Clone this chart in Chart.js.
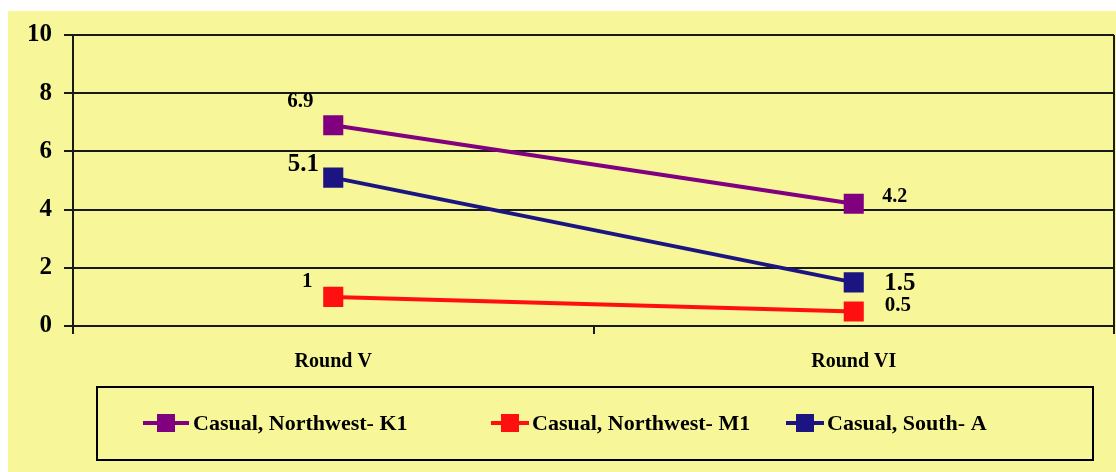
<!DOCTYPE html>
<html>
<head>
<meta charset="utf-8">
<script src="https://cdn.jsdelivr.net/npm/chart.js@4/dist/chart.umd.min.js"></script>
<style>
  html, body { margin: 0; padding: 0; background: #ffffff; }
  #wrap { width: 1116px; height: 472px; position: relative; }
</style>
</head>
<body>
<div id="wrap"><canvas id="c" width="1116" height="472"></canvas></div>
<script>
// Rounds on the category axis
const rounds = ['Round V', 'Round VI'];

// Series names and values per round
const seriesNames = ['Casual, Northwest- K1', 'Casual, Northwest- M1', 'Casual, South- A'];
const k1Values = [6.9, 4.2];
const m1Values = [1, 0.5];
const southAValues = [5.1, 1.5];

// Value axis ticks
const yTicks = [0, 2, 4, 6, 8, 10];

const seriesColors = ['#800080', '#FF1010', '#1C1480'];
const FONT = '"Liberation Serif", "Times New Roman", serif';
const BG = '#F7F799';

// Value label placement per series and point: [dx, dy, fontSize]
const labelStyle = [
  [[-33, -24, 21], [41, -7, 20]],
  [[-26, -15, 21], [44, -6, 21]],
  [[-30, -13, 25], [46, 1, 25]]
];

const seriesValues = [k1Values, m1Values, southAValues];

const datasets = seriesNames.map((name, i) => ({
  label: name,
  data: seriesValues[i],
  borderColor: seriesColors[i],
  backgroundColor: seriesColors[i],
  borderWidth: 4,
  pointStyle: 'rect',
  pointRadius: 14.2,
  pointHoverRadius: 14.2,
  pointBorderWidth: 0,
  tension: 0
}));

const decorPlugin = {
  id: 'decor',
  beforeDraw(chart) {
    const ctx = chart.ctx;
    ctx.save();
    ctx.fillStyle = '#ffffff';
    ctx.fillRect(0, 0, chart.width, chart.height);
    ctx.fillStyle = BG;
    ctx.fillRect(8, 11, chart.width - 8, chart.height - 11);
    ctx.restore();
  },
  afterDatasetsDraw(chart) {
    const ctx = chart.ctx;
    const area = chart.chartArea;
    ctx.save();
    // right border of the plot area
    ctx.strokeStyle = '#1a1a1a';
    ctx.lineWidth = 2;
    ctx.beginPath();
    ctx.moveTo(area.right, area.top);
    ctx.lineTo(area.right, area.bottom);
    ctx.stroke();

    // value labels
    ctx.fillStyle = '#000000';
    ctx.textAlign = 'center';
    ctx.textBaseline = 'middle';
    chart.data.datasets.forEach((ds, i) => {
      const meta = chart.getDatasetMeta(i);
      meta.data.forEach((pt, j) => {
        const [dx, dy, fs] = labelStyle[i][j];
        ctx.font = 'bold ' + fs + 'px ' + FONT;
        ctx.fillText(String(ds.data[j]), pt.x + dx, pt.y + dy);
      });
    });

    // legend box
    const bx = 97, by = 387, bw = 996, bh = 73;
    ctx.strokeStyle = '#000000';
    ctx.lineWidth = 2;
    ctx.strokeRect(bx, by, bw, bh);
    const items = [
      { x0: 143, x1: 189, tx: 193 },
      { x0: 491, x1: 529, tx: 532 },
      { x0: 786, x1: 824, tx: 827 }
    ];
    const ly = 423;
    chart.data.datasets.forEach((ds, i) => {
      const it = items[i];
      ctx.strokeStyle = ds.borderColor;
      ctx.lineWidth = 4;
      ctx.beginPath();
      ctx.moveTo(it.x0, ly);
      ctx.lineTo(it.x1, ly);
      ctx.stroke();
      ctx.fillStyle = ds.backgroundColor;
      const cx = (it.x0 + it.x1) / 2;
      ctx.fillRect(cx - 9, ly - 9, 18, 18);
      ctx.fillStyle = '#000000';
      ctx.textAlign = 'left';
      ctx.font = 'bold 22px ' + FONT;
      ctx.fillText(ds.label, it.tx, ly + 1);
    });
    ctx.restore();
  }
};

new Chart(document.getElementById('c'), {
  type: 'line',
  data: { labels: rounds, datasets },
  options: {
    responsive: false,
    animation: false,
    layout: { autoPadding: false, padding: { left: 0, right: 2, top: 35, bottom: 100 } },
    plugins: { legend: { display: false }, tooltip: { enabled: false } },
    scales: {
      x: {
        offset: true,
        grid: {
          offset: true,
          drawOnChartArea: false,
          drawTicks: true,
          tickLength: 8,
          color: '#1a1a1a',
          lineWidth: 2
        },
        border: { color: '#1a1a1a', width: 2 },
        ticks: {
          color: '#000000',
          padding: 16,
          font: { family: FONT, size: 20, weight: 'bold' }
        },
        afterFit(scale) { scale.height = 46; }
      },
      y: {
        min: 0,
        max: 10,
        afterBuildTicks(scale) { scale.ticks = yTicks.map(v => ({ value: v })); },
        grid: {
          color: '#1a1a1a',
          lineWidth: 2,
          tickLength: 9
        },
        border: { color: '#1a1a1a', width: 2 },
        ticks: {
          color: '#000000',
          padding: 12,
          font: { family: FONT, size: 25, weight: 'bold' }
        },
        afterFit(scale) { scale.width = 73; }
      }
    }
  },
  plugins: [decorPlugin]
});
</script>
</body>
</html>
